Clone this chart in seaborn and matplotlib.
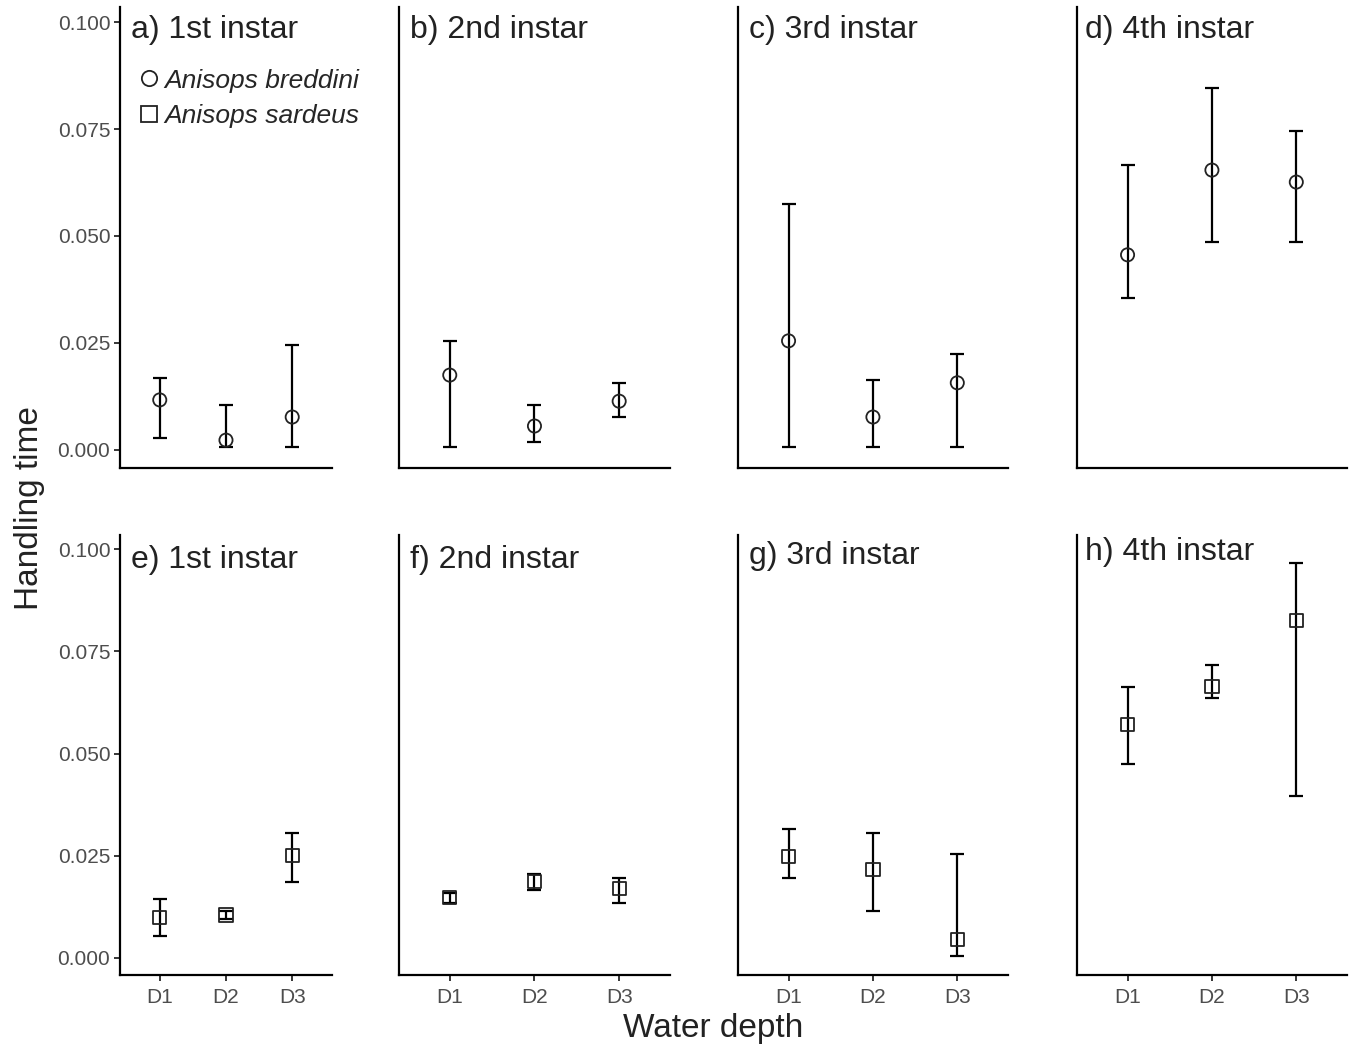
"""
Handling time of two Anisops species across instars and water depths.
"""

import matplotlib
matplotlib.use("Agg")
import matplotlib.pyplot as plt
from matplotlib.lines import Line2D
import numpy as np
import seaborn as sns

# ---- data ----
depths = ["D1", "D2", "D3"]
instars = ["1st instar", "2nd instar", "3rd instar", "4th instar"]
top_letters = ["a)", "b)", "c)", "d)"]
bottom_letters = ["e)", "f)", "g)", "h)"]

# Anisops breddini (circles, top row): mean, lower, upper per instar
breddini_mean = [[0.0117, 0.0023, 0.0077],
                 [0.0175, 0.0056, 0.0114],
                 [0.0255, 0.0077, 0.0157],
                 [0.0456, 0.0654, 0.0626]]
breddini_low = [[0.0028, 0.0007, 0.0007],
                [0.0007, 0.0019, 0.0077],
                [0.0007, 0.0007, 0.0007],
                [0.0355, 0.0486, 0.0486]]
breddini_high = [[0.0168, 0.0105, 0.0245],
                 [0.0255, 0.0105, 0.0157],
                 [0.0575, 0.0164, 0.0224],
                 [0.0666, 0.0846, 0.0745]]

# Anisops sardeus (squares, bottom row)
sardeus_mean = [[0.0098, 0.0105, 0.0250],
                [0.0147, 0.0186, 0.0169],
                [0.0248, 0.0216, 0.0044],
                [0.0571, 0.0664, 0.0826]]
sardeus_low = [[0.0054, 0.0096, 0.0186],
               [0.0135, 0.0167, 0.0135],
               [0.0196, 0.0115, 0.0005],
               [0.0475, 0.0635, 0.0397]]
sardeus_high = [[0.0145, 0.0115, 0.0306],
                [0.0159, 0.0206, 0.0196],
                [0.0316, 0.0306, 0.0255],
                [0.0664, 0.0716, 0.0966]]

yticks = [0.0, 0.025, 0.05, 0.075, 0.1]

sns.set_theme(style="ticks")
plt.rcParams["font.family"] = ["Liberation Sans", "DejaVu Sans"]

fig = plt.figure(figsize=(13.56, 10.49), dpi=100)

# layout
col_left = [0.0885, 0.2942, 0.5442, 0.7942]
col_width = [0.1563, 0.1999, 0.1991, 0.1991]
row_bottom = [0.5539, 0.0705]
row_height = [0.4394, 0.4195]
title_dx = [8, 8, 8, 6]
title_dy = [[-16.5, -16.5, -16.5, -16.5],
            [-18, -18, -15, -12]]

TICK_GREY = "#4d4d4d"
TEXT_DARK = "#222222"


def draw_panel(ax, mean, low, high, marker, label, row, col):
    mean = np.array(mean)
    yerr = [mean - np.array(low), np.array(high) - mean]
    ax.errorbar(depths, mean, yerr=yerr, fmt="none", ecolor="black",
                elinewidth=1.6, capsize=4.8, capthick=1.6, zorder=2)
    sns.scatterplot(x=depths, y=mean, marker=marker, s=90, ax=ax,
                    facecolor="none", edgecolor="#222222", linewidth=1.3,
                    zorder=3, legend=False)
    ax.set_xlim(-0.6, 2.6)
    ax.set_ylim(-0.0042, 0.1035)
    sns.despine(ax=ax)
    for side in ["left", "bottom"]:
        ax.spines[side].set_linewidth(1.6)
        ax.spines[side].set_color("black")
    ax.set_xlabel("")
    ax.set_ylabel("")

    if col == 0:
        ax.set_yticks(yticks)
        ax.set_yticklabels([f"{t:.3f}" for t in yticks])
        ax.tick_params(axis="y", labelsize=15, labelcolor=TICK_GREY,
                       length=4, width=1.1, color="black", pad=3)
    else:
        ax.set_yticks([])

    if row == 1:
        ax.set_xticks(range(3))
        ax.set_xticklabels(depths)
        ax.tick_params(axis="x", labelsize=15, labelcolor=TICK_GREY,
                       length=4, width=1.1, color="black", pad=5)
    else:
        ax.set_xticks([])

    ax.annotate(label, xy=(0, 1), xycoords="axes fraction",
                xytext=(title_dx[col], title_dy[row][col]), textcoords="offset points",
                va="center", ha="left", fontsize=23, color=TEXT_DARK)


for col in range(4):
    ax_top = fig.add_axes([col_left[col], row_bottom[0], col_width[col], row_height[0]])
    draw_panel(ax_top, breddini_mean[col], breddini_low[col], breddini_high[col],
               "o", f"{top_letters[col]} {instars[col]}", 0, col)
    if col == 0:
        handles = [
            Line2D([], [], marker="o", linestyle="none", markersize=11,
                   markerfacecolor="none", markeredgecolor="#222222", markeredgewidth=1.3),
            Line2D([], [], marker="s", linestyle="none", markersize=11,
                   markerfacecolor="none", markeredgecolor="#222222", markeredgewidth=1.3),
        ]
        ax_top.legend(handles, ["Anisops breddini", "Anisops sardeus"],
                      loc="upper left", bbox_to_anchor=(0.03, 0.895),
                      frameon=False, handlelength=0.7, handletextpad=0.25,
                      borderpad=0, labelspacing=0.45,
                      prop={"style": "italic", "size": 19})

    ax_bot = fig.add_axes([col_left[col], row_bottom[1], col_width[col], row_height[1]])
    draw_panel(ax_bot, sardeus_mean[col], sardeus_low[col], sardeus_high[col],
               "s", f"{bottom_letters[col]} {instars[col]}", 1, col)

fig.text(0.022, 0.516, "Handling time", rotation=90, ha="center", va="center",
         fontsize=24, color=TEXT_DARK)
fig.text(0.526, 0.02, "Water depth", ha="center", va="center",
         fontsize=24, color=TEXT_DARK)

fig.savefig("out.png", dpi=100)
plt.close(fig)
